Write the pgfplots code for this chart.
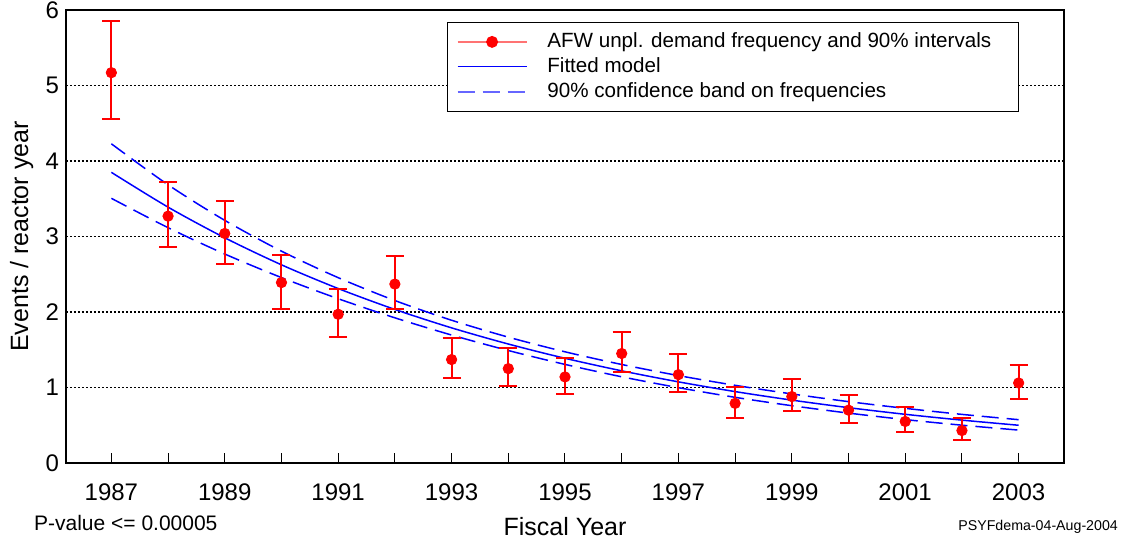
\documentclass[border=0pt]{standalone}
\usepackage{pgfplots}
\pgfplotsset{compat=1.18}
\usepackage{pgfplotstable}
\usepackage{fontspec}
\setmainfont{Liberation Sans}

% point estimates with asymmetric 90% interval half-widths
\pgfplotstableread{
x     y     ep    em
1987  5.17  0.69  0.61
1988  3.27  0.45  0.41
1989  3.04  0.43  0.40
1990  2.39  0.37  0.35
1991  1.97  0.34  0.30
1992  2.37  0.37  0.33
1993  1.37  0.28  0.24
1994  1.25  0.27  0.23
1995  1.14  0.25  0.22
1996  1.45  0.28  0.24
1997  1.17  0.27  0.23
1998  0.79  0.22  0.19
1999  0.88  0.23  0.19
2000  0.70  0.20  0.17
2001  0.55  0.19  0.14
2002  0.43  0.17  0.13
2003  1.06  0.24  0.21
}\freqdata

% fitted model and 90% band
\pgfplotstableread{
x     fit    up     lo
1987  3.850  4.228  3.506
1988  3.389  3.685  3.117
1989  2.983  3.214  2.768
1990  2.625  2.806  2.456
1991  2.311  2.455  2.176
1992  2.034  2.152  1.923
1993  1.790  1.891  1.695
1994  1.576  1.667  1.490
1995  1.387  1.473  1.306
1996  1.221  1.305  1.142
1997  1.075  1.158  0.998
1998  0.946  1.029  0.870
1999  0.833  0.915  0.759
2000  0.733  0.813  0.661
2001  0.645  0.724  0.575
2002  0.568  0.644  0.501
2003  0.500  0.574  0.436
}\fitdata

\begin{document}
\begin{tikzpicture}
\useasboundingbox (-33pt,-39.5pt) rectangle (528.5pt,231.5pt);
\begin{axis}[
  scale only axis,
  width=499pt, height=226.5pt,
  xmin=1986.2, xmax=2003.8,
  ymin=0, ymax=6,
  clip mode=individual,
  axis line style={line width=1pt},
  xtick={1987,...,2003},
  xticklabels={1987,,1989,,1991,,1993,,1995,,1997,,1999,,2001,,2003},
  xtick pos=bottom, xtick align=inside,
  major tick length=5pt,
  xtick style={line width=0.5pt, black},
  ytick={0,...,6},
  ytick style={draw=none},
  ymajorgrids,
  grid style={dash pattern=on 0.8pt off 1.2pt, line width=0.8pt, black},
  tick label style={font=\fontsize{12}{14}\selectfont},
  /pgf/number format/assume math mode=true,
  xticklabel style={anchor=center, yshift=-14.5pt},
  yticklabel style={anchor=east},
  xlabel={Fiscal Year},
  ylabel={Events / reactor year},
  label style={font=\fontsize{12.5}{15}\selectfont},
  xlabel style={at={(axis description cs:0.5,-0.1413)}, anchor=center},
  ylabel style={at={(axis description cs:-0.0445,0.5)}, anchor=center},
  legend cell align=left,
  legend style={at={(0.382,0.974)}, anchor=north west, draw=black,
    line width=0.6pt, fill=white, inner xsep=4.5pt, inner ysep=3.5pt,
    column sep=9pt,
    font=\fontsize{10.3}{12}\selectfont,
    nodes={inner sep=1pt, text height=8pt, text depth=2.5pt}},
  legend image code/.code={\draw[mark repeat=2,mark phase=2,#1]
    plot coordinates {(0pt,0pt) (17.25pt,0pt) (34.5pt,0pt)};},
]
\addlegendimage{red!55, line width=0.75pt, mark=*, mark size=2.6pt, mark options={red, fill=red, solid}}
\addlegendentry{AFW unpl. demand frequency and 90\% intervals\rule{8pt}{0pt}}
\addlegendimage{blue, line width=0.6pt}
\addlegendentry{Fitted model}
\addlegendimage{blue!60, line width=0.75pt, dash pattern=on 8.5pt off 4pt}
\addlegendentry{90\% confidence band on frequencies}

\addplot[blue, line width=0.75pt, smooth, forget plot] table[x=x, y=fit] {\fitdata};
\addplot[blue, line width=0.75pt, smooth, dash pattern=on 8.5pt off 4pt, forget plot] table[x=x, y=up] {\fitdata};
\addplot[blue, line width=0.75pt, smooth, dash pattern=on 8.5pt off 4pt, forget plot] table[x=x, y=lo] {\fitdata};

\addplot[draw=none, mark=*, mark size=2.6pt, mark options={red, fill=red},
  error bars/.cd, y dir=both, y explicit,
  error bar style={red, line width=1pt},
  error mark options={red, line width=1pt, mark size=4.5pt, rotate=90}]
  table[x=x, y=y, y error plus=ep, y error minus=em] {\freqdata};

\node[anchor=west, font=\fontsize{10.5}{12}\selectfont] at (rel axis cs:-0.039,-0.1325) {P-value <= 0.00005};
\node[anchor=east, font=\fontsize{7.1}{9}\selectfont] at (rel axis cs:1.061,-0.1413) {PSYFdema-04-Aug-2004};
\end{axis}
\end{tikzpicture}
\end{document}
